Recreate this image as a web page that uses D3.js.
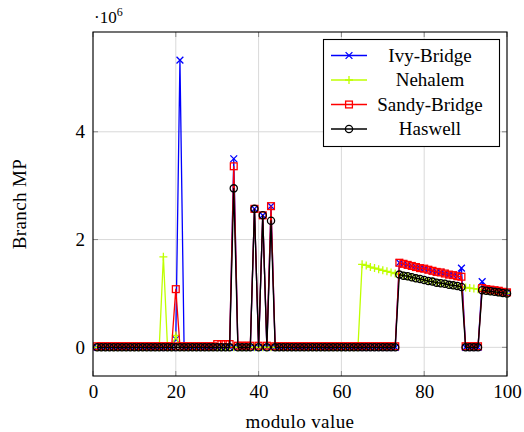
<!DOCTYPE html>
<html><head><meta charset="utf-8">
<script src="https://cdn.jsdelivr.net/npm/d3@7"></script>
<style>body{margin:0;background:#fff}svg{display:block}svg text{font-family:'Liberation Serif','Times New Roman',serif !important;fill:#000}</style>
</head><body><div id="chart"></div>
<script>
// modulo value (x)
const modulo = [1,2,3,4,5,6,7,8,9,10,11,12,13,14,15,16,17,18,19,20,21,22,23,24,25,26,27,28,29,30,31,32,33,34,35,36,37,38,39,40,41,42,43,44,45,46,47,48,49,50,51,52,53,54,55,56,57,58,59,60,61,62,63,64,65,66,67,68,69,70,71,72,73,74,75,76,77,78,79,80,81,82,83,84,85,86,87,88,89,90,91,92,93,94,95,96,97,98,99,100];
// Branch MP, in units of 10^6
const ivyBridge = [0,0,0,0,0,0,0,0,0,0,0,0,0,0,0,0,0,0,0,0.15,5.33,0,0,0,0,0,0,0,0,0,0,0,0,3.50,0,0,0,0,2.57,0,2.45,0,2.62,0,0,0,0,0,0,0,0,0,0,0,0,0,0,0,0,0,0,0,0,0,0,0,0,0,0,0,0,0,0,1.57,1.55,1.53,1.51,1.49,1.47,1.46,1.44,1.42,1.40,1.39,1.37,1.35,1.34,1.32,1.47,0,0,0,0,1.22,1.08,1.07,1.06,1.05,1.03,1.02];
const nehalem = [0,0,0,0,0,0,0,0,0,0,0,0,0,0,0,0,1.68,0,0,0.22,0,0,0,0,0,0,0,0,0,0,0,0,0,0,0,0,0,0,0,0,0,0,0,0,0,0,0,0,0,0,0,0,0,0,0,0,0,0,0,0,0,0,0,0,1.54,1.52,1.49,1.47,1.45,1.43,1.41,1.39,1.37,1.35,1.33,1.32,1.30,1.28,1.27,1.25,1.23,1.22,1.20,1.19,1.18,1.16,1.15,1.14,1.12,1.11,1.10,1.09,1.08,1.06,1.05,1.04,1.03,1.02,1.01,1.00];
const sandyBridge = [0.02,0.02,0.02,0.02,0.02,0.02,0.02,0.02,0.02,0.02,0.02,0.02,0.02,0.02,0.02,0.02,0.02,0.02,0.02,1.08,0.02,0.02,0.02,0.02,0.02,0.02,0.02,0.02,0.02,0.06,0.06,0.06,0.06,3.36,0.03,0.03,0.03,0.03,2.57,0.03,2.45,0.03,2.62,0.02,0.02,0.02,0.02,0.02,0.02,0.02,0.02,0.02,0.02,0.02,0.02,0.02,0.02,0.02,0.02,0.02,0.02,0.02,0.02,0.02,0.02,0.02,0.02,0.02,0.02,0.02,0.02,0.02,0.02,1.57,1.55,1.53,1.51,1.49,1.47,1.46,1.44,1.42,1.40,1.39,1.37,1.35,1.34,1.32,1.31,0.02,0.02,0.02,0.02,1.10,1.08,1.07,1.06,1.05,1.03,1.02];
const haswell = [0,0,0,0,0,0,0,0,0,0,0,0,0,0,0,0,0,0,0,0,0,0,0,0,0,0,0,0,0,0,0,0,0,2.95,0,0,0,0,2.57,0,2.45,0,2.35,0,0,0,0,0,0,0,0,0,0,0,0,0,0,0,0,0,0,0,0,0,0,0,0,0,0,0,0,0,0,1.35,1.33,1.32,1.30,1.28,1.27,1.25,1.23,1.22,1.20,1.19,1.18,1.16,1.15,1.14,1.12,0,0,0,0,1.06,1.05,1.04,1.03,1.02,1.01,1.00];
const seriesNames = ["Ivy-Bridge","Nehalem","Sandy-Bridge","Haswell"];
const xTicks = [0,20,40,60,80,100];
const yTicks = [0,2,4];

const series = [
  {name: seriesNames[0], values: ivyBridge, color: "#0000ff", mark: "x"},
  {name: seriesNames[1], values: nehalem, color: "#bfff00", mark: "+"},
  {name: seriesNames[2], values: sandyBridge, color: "#ff0000", mark: "square"},
  {name: seriesNames[3], values: haswell, color: "#000000", mark: "o"}
];

const W = 524, H = 432;
const L = 93, R = 507, T = 32, B = 376;
const FS = 19;
const svg = d3.select("#chart").append("svg").attr("width", W).attr("height", H);
const x = d3.scaleLinear().domain([0, 100]).range([L, R]);
const y = d3.scaleLinear().domain([-0.532, 5.852]).range([B, T]);

// grid
const g = svg.append("g");
g.selectAll(".gx").data(xTicks).join("line")
  .attr("x1", d => x(d)).attr("x2", d => x(d)).attr("y1", T).attr("y2", B)
  .attr("stroke", "#d9d9d9").attr("stroke-width", 1);
g.selectAll(".gy").data(yTicks).join("line")
  .attr("x1", L).attr("x2", R).attr("y1", d => y(d)).attr("y2", d => y(d))
  .attr("stroke", "#d9d9d9").attr("stroke-width", 1);

// tick marks (inside, both sides)
const tl = 5;
xTicks.forEach(t => {
  g.append("line").attr("x1", x(t)).attr("x2", x(t)).attr("y1", B).attr("y2", B - tl).attr("stroke", "#888");
  g.append("line").attr("x1", x(t)).attr("x2", x(t)).attr("y1", T).attr("y2", T + tl).attr("stroke", "#888");
});
yTicks.forEach(t => {
  g.append("line").attr("x1", L).attr("x2", L + tl).attr("y1", y(t)).attr("y2", y(t)).attr("stroke", "#888");
  g.append("line").attr("x1", R).attr("x2", R - tl).attr("y1", y(t)).attr("y2", y(t)).attr("stroke", "#888");
});

// axes labels via d3 axes (no domain/tick lines)
const xAxis = svg.append("g").attr("transform", `translate(0,${B})`)
  .call(d3.axisBottom(x).tickValues(xTicks).tickSize(0).tickPadding(9).tickFormat(d3.format("d")));
xAxis.select(".domain").remove();
xAxis.selectAll("text").attr("font-size", FS).attr("fill", "#000");
const yAxis = svg.append("g").attr("transform", `translate(${L},0)`)
  .call(d3.axisLeft(y).tickValues(yTicks).tickSize(0).tickPadding(8).tickFormat(d3.format("d")));
yAxis.select(".domain").remove();
yAxis.selectAll("text").attr("font-size", FS).attr("fill", "#000");

// exponent label
const ex = svg.append("text").attr("x", L + 1).attr("y", 23).attr("font-size", 17);
ex.append("tspan").text("·10");
ex.append("tspan").attr("dy", -7).attr("font-size", 12).text("6");

// axis titles
svg.append("text").attr("x", (L + R) / 2).attr("y", 428).attr("text-anchor", "middle").attr("font-size", FS).attr("letter-spacing", 0.4).text("modulo value");
svg.append("text").attr("transform", `translate(26,${(T + B) / 2}) rotate(-90)`).attr("text-anchor", "middle").attr("font-size", FS).attr("letter-spacing", 0.4).text("Branch MP");

// markers
function drawMark(sel, type, cx, cy, color) {
  const s = 3.4;
  if (type === "x") {
    sel.append("path").attr("d", `M${cx - s},${cy - s}L${cx + s},${cy + s}M${cx - s},${cy + s}L${cx + s},${cy - s}`)
      .attr("stroke", color).attr("stroke-width", 1.3).attr("fill", "none");
  } else if (type === "+") {
    const p = 4;
    sel.append("path").attr("d", `M${cx - p},${cy}L${cx + p},${cy}M${cx},${cy - p}L${cx},${cy + p}`)
      .attr("stroke", color).attr("stroke-width", 1.3).attr("fill", "none");
  } else if (type === "square") {
    sel.append("rect").attr("x", cx - s).attr("y", cy - s).attr("width", 2 * s).attr("height", 2 * s)
      .attr("stroke", color).attr("stroke-width", 1.3).attr("fill", "none");
  } else {
    sel.append("circle").attr("cx", cx).attr("cy", cy).attr("r", 3.6)
      .attr("stroke", color).attr("stroke-width", 1.3).attr("fill", "none");
  }
}

const line = d3.line().x(d => x(d[0])).y(d => y(d[1]));
const plot = svg.append("g");
series.forEach(s => {
  const pts = modulo.map((m, i) => [m, s.values[i]]);
  plot.append("path").datum(pts).attr("d", line).attr("fill", "none")
    .attr("stroke", s.color).attr("stroke-width", 1.3).attr("stroke-linejoin", "round");
  const mg = plot.append("g");
  pts.forEach(p => drawMark(mg, s.mark, x(p[0]), y(p[1]), s.color));
});

// frame
svg.append("rect").attr("x", L).attr("y", T).attr("width", R - L).attr("height", B - T)
  .attr("fill", "none").attr("stroke", "#000").attr("stroke-width", 1.1);

// legend
const lg = svg.append("g");
lg.append("rect").attr("x", 323.5).attr("y", 39.5).attr("width", 176).attr("height", 107)
  .attr("fill", "#fff").attr("stroke", "#000").attr("stroke-width", 1.1);
const rowY = [55.5, 80, 104.5, 129];
series.forEach((s, i) => {
  const yy = rowY[i];
  lg.append("line").attr("x1", 331).attr("x2", 367).attr("y1", yy).attr("y2", yy)
    .attr("stroke", s.color).attr("stroke-width", 1.3);
  drawMark(lg, s.mark, 349, yy, s.color);
  lg.append("text").attr("x", 430).attr("y", yy + 6).attr("text-anchor", "middle").attr("font-size", FS).text(s.name);
});
</script></body></html>
